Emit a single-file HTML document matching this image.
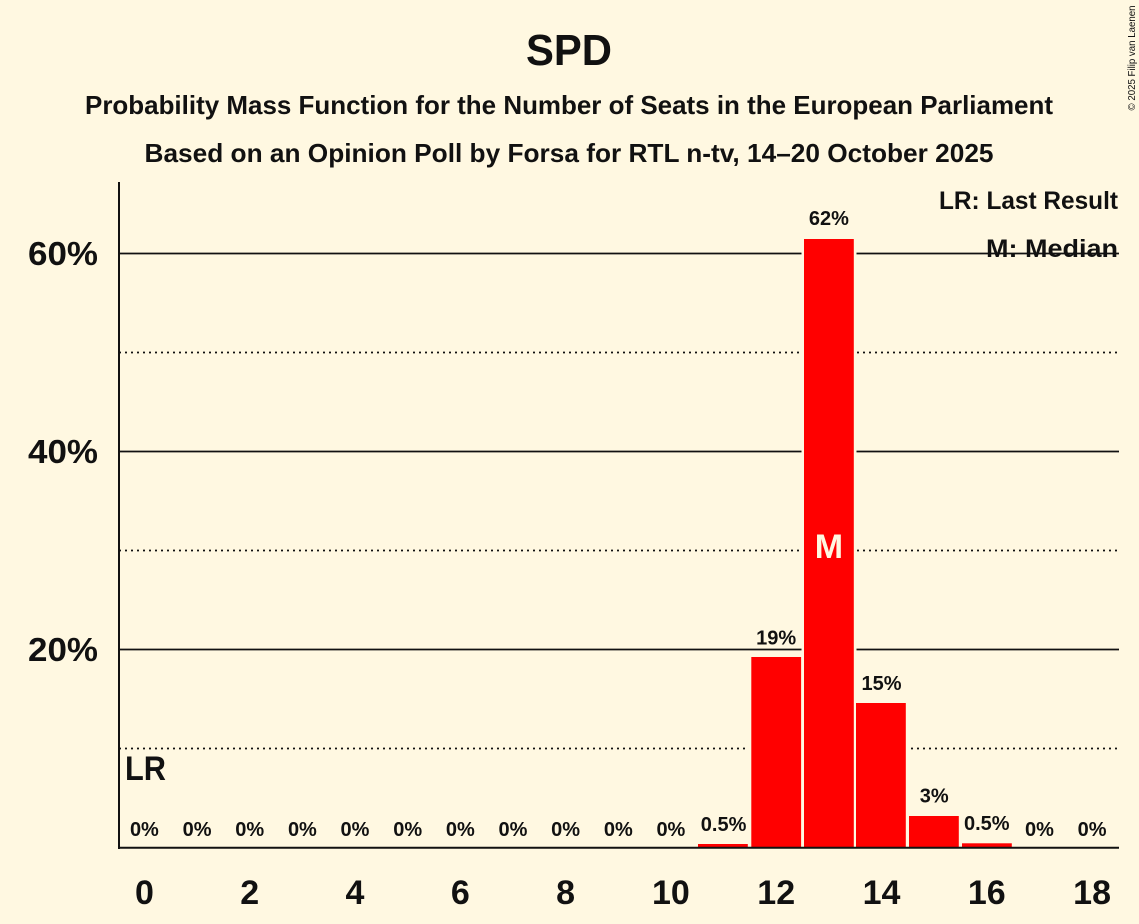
<!DOCTYPE html>
<html>
<head>
<meta charset="utf-8">
<style>
  html, body { margin: 0; padding: 0; background: #fff8e1; }
  svg { display: block; }
  text { font-family: "Liberation Sans", "DejaVu Sans", sans-serif; font-weight: bold; fill: #111; }
</style>
</head>
<body>
<svg width="1139" height="924" viewBox="0 0 1139 924" xmlns="http://www.w3.org/2000/svg">
  <rect x="0" y="0" width="1139" height="924" fill="#fff8e1"/>

  <!-- Titles -->
  <text x="569" y="65" font-size="44" text-anchor="middle" textLength="86" lengthAdjust="spacingAndGlyphs">SPD</text>
  <text x="569" y="114" font-size="26" text-anchor="middle" textLength="968" lengthAdjust="spacingAndGlyphs">Probability Mass Function for the Number of Seats in the European Parliament</text>
  <text x="569" y="162" font-size="26" text-anchor="middle" textLength="849" lengthAdjust="spacingAndGlyphs">Based on an Opinion Poll by Forsa for RTL n-tv, 14–20 October 2025</text>

  <!-- Copyright -->
  <text x="0" y="0" font-size="10" font-weight="normal" style="font-weight:normal" fill="#444" transform="translate(1135,58) rotate(-90)" text-anchor="middle" textLength="105" lengthAdjust="spacingAndGlyphs">© 2025 Filip van Laenen</text>

  <!-- Legend (drawn before gridlines so line crosses M: Median) -->
  <text x="1118" y="209" font-size="25" text-anchor="end" textLength="179" lengthAdjust="spacingAndGlyphs">LR: Last Result</text>
  <text x="1118" y="257" font-size="25" text-anchor="end" textLength="132" lengthAdjust="spacingAndGlyphs">M: Median</text>

  <!-- Gridlines -->
  <g stroke="#111">
    <line x1="119" y1="253.5" x2="1119" y2="253.5" stroke-width="1.8"/>
    <line x1="119" y1="451.5" x2="1119" y2="451.5" stroke-width="1.8"/>
    <line x1="119" y1="649.5" x2="1119" y2="649.5" stroke-width="1.8"/>
    <line x1="119" y1="352.5" x2="1119" y2="352.5" stroke-width="1.8" stroke-dasharray="2 4"/>
    <line x1="119" y1="550.5" x2="1119" y2="550.5" stroke-width="1.8" stroke-dasharray="2 4"/>
    <line x1="119" y1="748.5" x2="1119" y2="748.5" stroke-width="1.8" stroke-dasharray="2 4"/>
  </g>

  <!-- Background halos behind bars -->
  <g fill="#fff8e1">
    <rect x="695.5" y="844" width="55" height="4"/>
    <rect x="748.8" y="657" width="55" height="191"/>
    <rect x="801.5" y="239" width="55" height="609"/>
    <rect x="853.5" y="703" width="55" height="145"/>
    <rect x="906.5" y="816" width="55" height="32"/>
    <rect x="959.5" y="843.3" width="55" height="5"/>
  </g>

  <!-- Bars -->
  <g fill="#ff0000">
    <rect x="698" y="844" width="49.8" height="3.7"/>
    <rect x="751.3" y="657" width="49.8" height="190.7"/>
    <rect x="804" y="239" width="49.8" height="608.7"/>
    <rect x="856" y="703" width="49.8" height="144.7"/>
    <rect x="909" y="816" width="49.8" height="31.7"/>
    <rect x="962" y="843.3" width="49.8" height="4.4"/>
  </g>

  <!-- Median marker -->
  <text x="828.9" y="558" font-size="34" text-anchor="middle" fill="#fff8e1" style="fill:#fff8e1">M</text>

  <!-- Axes -->
  <line x1="119" y1="182" x2="119" y2="849" stroke="#111" stroke-width="2"/>
  <line x1="118" y1="847.7" x2="1119" y2="847.7" stroke="#111" stroke-width="2"/>

  <!-- Y tick labels -->
  <text x="28" y="265" font-size="33" textLength="70" lengthAdjust="spacingAndGlyphs">60%</text>
  <text x="28" y="463" font-size="33" textLength="70" lengthAdjust="spacingAndGlyphs">40%</text>
  <text x="28" y="661" font-size="33" textLength="70" lengthAdjust="spacingAndGlyphs">20%</text>

  <!-- LR label -->
  <text x="125" y="780" font-size="34" textLength="41" lengthAdjust="spacingAndGlyphs">LR</text>

  <!-- Value labels -->
  <g font-size="20" text-anchor="middle">
    <text x="144.4" y="836">0%</text>
    <text x="197.1" y="836">0%</text>
    <text x="249.7" y="836">0%</text>
    <text x="302.4" y="836">0%</text>
    <text x="355" y="836">0%</text>
    <text x="407.7" y="836">0%</text>
    <text x="460.3" y="836">0%</text>
    <text x="513" y="836">0%</text>
    <text x="565.6" y="836">0%</text>
    <text x="618.3" y="836">0%</text>
    <text x="670.9" y="836">0%</text>
    <text x="723.6" y="831">0.5%</text>
    <text x="776.2" y="644.5">19%</text>
    <text x="828.9" y="225">62%</text>
    <text x="881.5" y="690">15%</text>
    <text x="934.2" y="802.5">3%</text>
    <text x="986.8" y="830">0.5%</text>
    <text x="1039.5" y="836">0%</text>
    <text x="1092.1" y="836">0%</text>
  </g>

  <!-- X tick labels -->
  <g font-size="34" text-anchor="middle">
    <text x="144.4" y="904">0</text>
    <text x="249.7" y="904">2</text>
    <text x="355" y="904">4</text>
    <text x="460.3" y="904">6</text>
    <text x="565.6" y="904">8</text>
    <text x="670.9" y="904">10</text>
    <text x="776.2" y="904">12</text>
    <text x="881.5" y="904">14</text>
    <text x="986.8" y="904">16</text>
    <text x="1092.1" y="904">18</text>
  </g>
</svg>
</body>
</html>
